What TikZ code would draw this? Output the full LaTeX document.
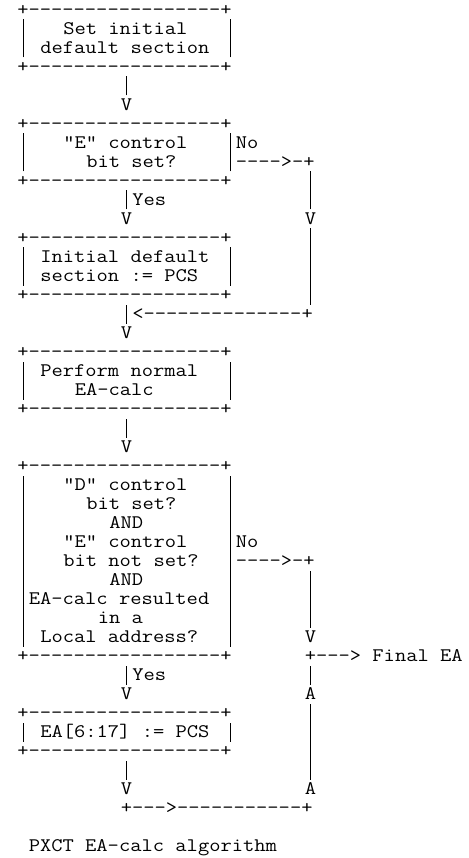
\documentclass[tikz,border=0pt]{standalone}
\usepackage{fontspec}
\tikzset{
  ascseg/.style={anchor=base west, inner sep=0pt, outer sep=0pt,
    font=\ttfamily\fontsize{19.17}{19}\selectfont, text=black}
}
% full-height vertical bar in one monospace cell
\newcommand{\vb}{\makebox[0.525em]{\rule[-4pt]{0.55pt}{19pt}}}
% name, row, column, text  (monospace cell 11.5pt wide, rows 19pt apart)
\newcommand{\ascput}[4]{\node[ascseg] (#1) at ({#3*11.5pt-5.75pt},{-15.5pt-(#2-1)*19pt}) {\scalebox{1.143}[1]{#4}};}
\begin{document}
\begin{tikzpicture}
\useasboundingbox (0pt,0pt) rectangle (468pt,-858pt);
\def\brd{+-----------------+}
% box 1
\ascput{b1t}{1}{2}{\brd}
\ascput{b1l2}{2}{2}{\vb}\ascput{b1x2}{2}{6}{Set initial}\ascput{b1r2}{2}{20}{\vb}
\ascput{b1l3}{3}{2}{\vb}\ascput{b1x3}{3}{4}{default section}\ascput{b1r3}{3}{20}{\vb}
\ascput{b1b}{4}{2}{\brd}
\ascput{a1a}{5}{11}{\vb}
\ascput{a1b}{6}{11}{V}
% box 2
\ascput{b2t}{7}{2}{\brd}
\ascput{b2l8}{8}{2}{\vb}\ascput{b2x8}{8}{6}{"E" control}\ascput{b2r8}{8}{20}{\vb No}
\ascput{b2l9}{9}{2}{\vb}\ascput{b2x9}{9}{8}{bit set?}\ascput{b2r9}{9}{20}{\vb---->-+}
\ascput{b2b}{10}{2}{\brd}\ascput{n10}{10}{27}{\vb}
\ascput{y11}{11}{11}{\vb Yes}\ascput{n11}{11}{27}{\vb}
\ascput{y12}{12}{11}{V}\ascput{n12}{12}{27}{V}
% box 3
\ascput{b3t}{13}{2}{\brd}\ascput{n13}{13}{27}{\vb}
\ascput{b3l14}{14}{2}{\vb}\ascput{b3x14}{14}{4}{Initial default}\ascput{b3r14}{14}{20}{\vb}\ascput{n14}{14}{27}{\vb}
\ascput{b3l15}{15}{2}{\vb}\ascput{b3x15}{15}{4}{section := PCS}\ascput{b3r15}{15}{20}{\vb}\ascput{n15}{15}{27}{\vb}
\ascput{b3b}{16}{2}{\brd}\ascput{n16}{16}{27}{\vb}
\ascput{j17}{17}{11}{\vb<--------------+}
\ascput{j18}{18}{11}{V}
% box 4
\ascput{b4t}{19}{2}{\brd}
\ascput{b4l20}{20}{2}{\vb}\ascput{b4x20}{20}{4}{Perform normal}\ascput{b4r20}{20}{20}{\vb}
\ascput{b4l21}{21}{2}{\vb}\ascput{b4x21}{21}{7}{EA-calc}\ascput{b4r21}{21}{20}{\vb}
\ascput{b4b}{22}{2}{\brd}
\ascput{a4a}{23}{11}{\vb}
\ascput{a4b}{24}{11}{V}
% box 5
\ascput{b5t}{25}{2}{\brd}
\ascput{b5l26}{26}{2}{\vb}\ascput{b5x26}{26}{6}{"D" control}\ascput{b5r26}{26}{20}{\vb}
\ascput{b5l27}{27}{2}{\vb}\ascput{b5x27}{27}{8}{bit set?}\ascput{b5r27}{27}{20}{\vb}
\ascput{b5l28}{28}{2}{\vb}\ascput{b5x28}{28}{10}{AND}\ascput{b5r28}{28}{20}{\vb}
\ascput{b5l29}{29}{2}{\vb}\ascput{b5x29}{29}{6}{"E" control}\ascput{b5r29}{29}{20}{\vb No}
\ascput{b5l30}{30}{2}{\vb}\ascput{b5x30}{30}{6}{bit not set?}\ascput{b5r30}{30}{20}{\vb---->-+}
\ascput{b5l31}{31}{2}{\vb}\ascput{b5x31}{31}{10}{AND}\ascput{b5r31}{31}{20}{\vb}\ascput{m31}{31}{27}{\vb}
\ascput{b5l32}{32}{2}{\vb}\ascput{b5x32}{32}{3}{EA-calc resulted}\ascput{b5r32}{32}{20}{\vb}\ascput{m32}{32}{27}{\vb}
\ascput{b5l33}{33}{2}{\vb}\ascput{b5x33}{33}{9}{in a}\ascput{b5r33}{33}{20}{\vb}\ascput{m33}{33}{27}{\vb}
\ascput{b5l34}{34}{2}{\vb}\ascput{b5x34}{34}{4}{Local address?}\ascput{b5r34}{34}{20}{\vb}\ascput{m34}{34}{27}{V}
\ascput{b5b}{35}{2}{\brd}\ascput{fin}{35}{27}{+---> Final EA}
\ascput{y36}{36}{11}{\vb Yes}\ascput{m36}{36}{27}{\vb}
\ascput{y37}{37}{11}{V}\ascput{m37}{37}{27}{A}
% box 6
\ascput{b6t}{38}{2}{\brd}\ascput{m38}{38}{27}{\vb}
\ascput{b6l39}{39}{2}{\vb}\ascput{b6x39}{39}{4}{EA[6:17] := PCS}\ascput{b6r39}{39}{20}{\vb}\ascput{m39}{39}{27}{\vb}
\ascput{b6b}{40}{2}{\brd}\ascput{m40}{40}{27}{\vb}
\ascput{a6a}{41}{11}{\vb}\ascput{m41}{41}{27}{\vb}
\ascput{a6b}{42}{11}{V}\ascput{m42}{42}{27}{A}
\ascput{j43}{43}{11}{+--->-----------+}
% caption
\ascput{cap}{45}{3}{PXCT EA-calc algorithm}
\end{tikzpicture}
\end{document}
